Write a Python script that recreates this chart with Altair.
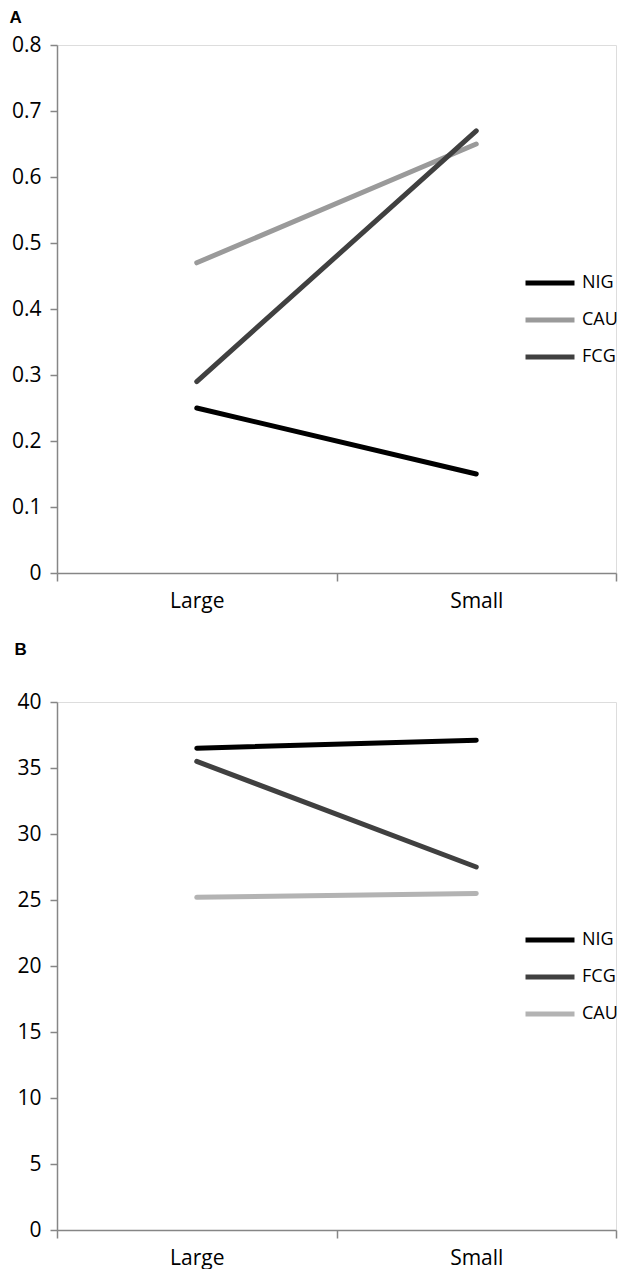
import altair as alt
import pandas as pd

sizes = ["Large", "Small"]

# Panel A
a_groups = ["NIG", "CAU", "FCG"]
a_nig = [0.25, 0.15]
a_cau = [0.47, 0.65]
a_fcg = [0.29, 0.67]
a_colors = ["#000000", "#9a9a9a", "#404040"]

# Panel B
b_groups = ["NIG", "FCG", "CAU"]
b_nig = [36.5, 37.1]
b_fcg = [35.5, 27.5]
b_cau = [25.2, 25.5]
b_colors = ["#000000", "#404040", "#b3b3b3"]

FONT = "Open Sans"


def make_df(series):
    rows = []
    for name, vals in series:
        for s, v in zip(sizes, vals):
            rows.append({"group": name, "size": s, "value": v})
    return pd.DataFrame(rows)


df_a = make_df([("NIG", a_nig), ("CAU", a_cau), ("FCG", a_fcg)])
df_b = make_df([("NIG", b_nig), ("FCG", b_fcg), ("CAU", b_cau)])


def panel(df, groups, colors, ymax, ystep, label, w, h, fmt, tx, ty, lx):
    xax = alt.Axis(title=None, labelAngle=0, tickBand="extent", labelFontSize=21,
                   labelFont=FONT, labelColor="#000", domainColor="#868686",
                   tickColor="#868686", domainWidth=1.5, tickWidth=1.5,
                   tickSize=8, labelPadding=9, grid=False)
    yax = alt.Axis(title=label, titleAngle=0, titleX=tx, titleY=ty, titleAlign="left",
                   titleBaseline="middle", titleFontSize=17, titleFontWeight="bold",
                   titleFont="Liberation Sans", titleColor="#000",
                   values=[i * ystep for i in range(int(round(ymax / ystep)) + 1)],
                   labelFontSize=21, labelFont=FONT, labelColor="#000",
                   domainColor="#868686", tickColor="#868686", domainWidth=1.5,
                   tickWidth=1.5, tickSize=7, labelPadding=9, grid=False, format=fmt)
    leg = alt.Legend(title=None, orient="none", legendX=lx, legendY=211,
                     symbolType="stroke", symbolSize=2400, symbolStrokeWidth=5,
                     labelFontSize=18, labelFont=FONT, labelColor="#000",
                     rowPadding=-7, labelOffset=5, padding=0)
    return alt.Chart(df).mark_line(strokeWidth=5, strokeCap="round").encode(
        x=alt.X("size:N", sort=sizes, axis=xax,
                scale=alt.Scale(paddingInner=0, paddingOuter=0)),
        y=alt.Y("value:Q", axis=yax, scale=alt.Scale(domain=[0, ymax], nice=False)),
        color=alt.Color("group:N", sort=groups, legend=leg,
                        scale=alt.Scale(domain=groups, range=colors)),
        detail="group:N",
    ).properties(width=w, height=h)


chart_a = panel(df_a, a_groups, a_colors, 0.8, 0.1, "A", 559, 528, ".1~f", -48, -28, 466)
chart_b = panel(df_b, b_groups, b_colors, 40, 5, "B", 559, 528, "d", -43, -53, 466)

chart = alt.vconcat(chart_a, chart_b, spacing=27).resolve_scale(
    color="independent", x="independent", y="independent"
).properties(
    padding={"left": 0, "top": -1, "right": 0, "bottom": 0}
).configure_view(stroke=None).configure(background="white")

chart.save("out.html", embed_options={"renderer": "svg", "actions": False})
